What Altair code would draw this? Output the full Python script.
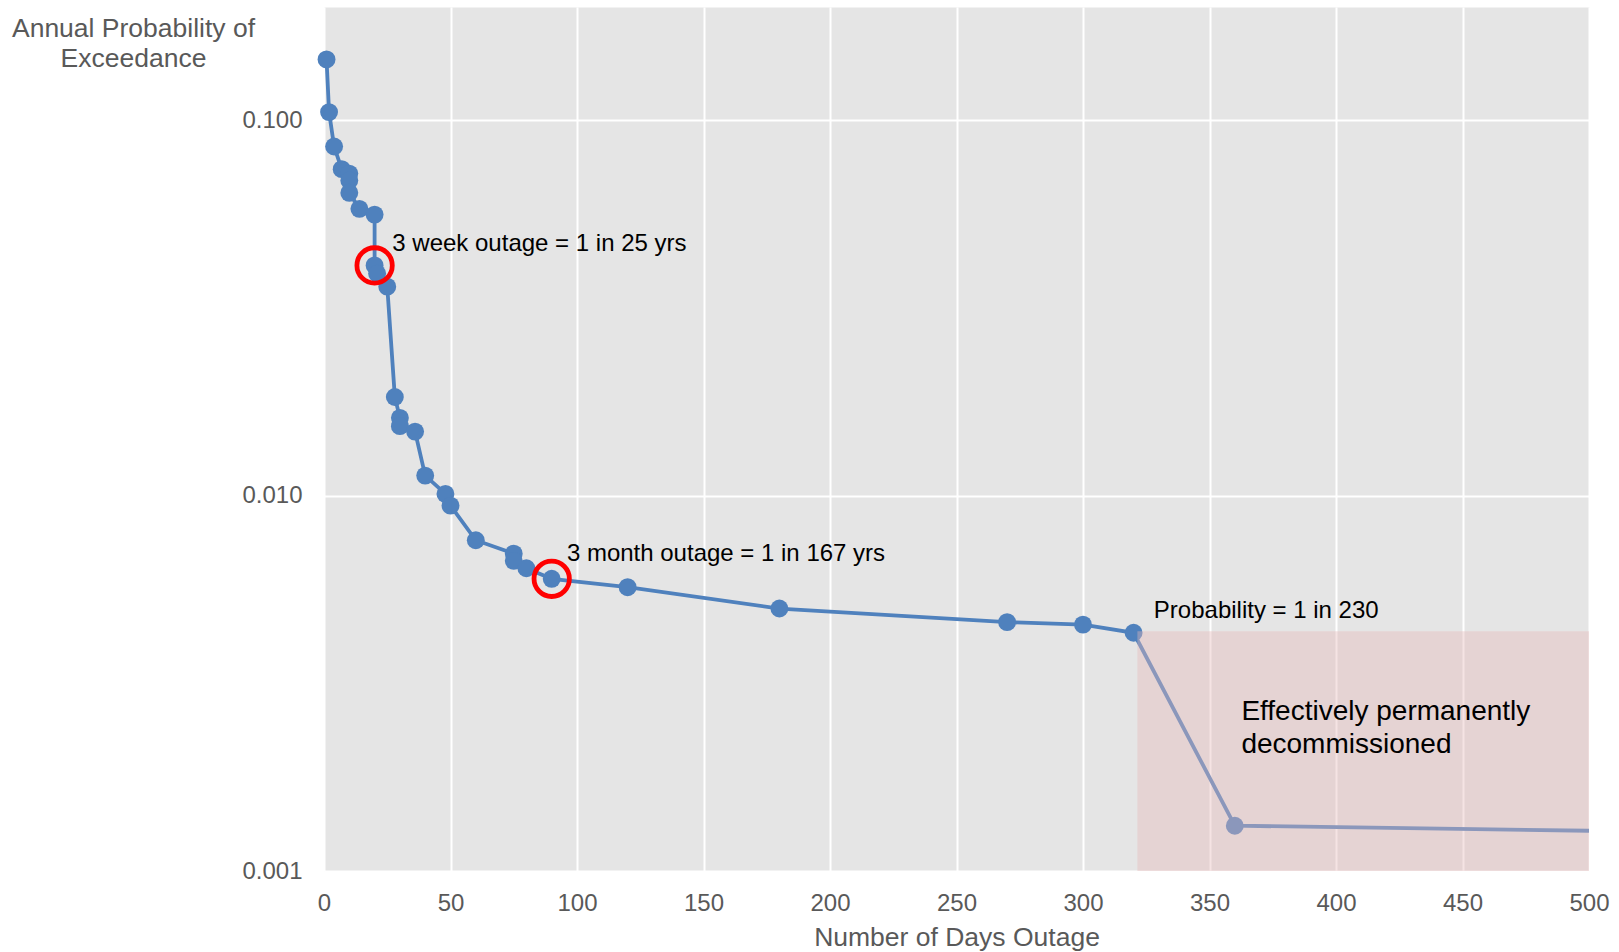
import altair as alt
import pandas as pd

# ---- data ----
days = [1, 2, 4, 7, 10, 10, 10, 14, 20, 20, 21, 25, 28, 30, 30, 36, 40, 48, 50, 60,
        75, 75, 80, 90, 120, 180, 270, 300, 320, 360, 500]
prob = [0.145, 0.105, 0.085, 0.074, 0.072, 0.069, 0.064, 0.058, 0.056, 0.041, 0.039, 0.036,
        0.0183, 0.0161, 0.0153, 0.0148, 0.0113, 0.0101, 0.0094, 0.0076,
        0.0070, 0.0067, 0.0064, 0.0060, 0.0057, 0.0050, 0.0046, 0.00453, 0.00431, 0.00132, 0.00128]
has_marker = [True] * 30 + [False]

hl_days = [20, 90]
hl_prob = [0.041, 0.0060]

zone_start = [321.5]
zone_end = [500]
zone_low = [0.001]
zone_high = [1 / 230]

ann_text = ["3 week outage = 1 in 25 yrs", "3 month outage = 1 in 167 yrs", "Probability = 1 in 230"]
ann_x = [27, 96, 328]
ann_y = [0.0447, 0.00671, 0.00471]

decom_text = ["Effectively permanently\ndecommissioned"]
decom_x = [362.6]
decom_y = [0.00252]

x_ticks = list(range(0, 501, 50))
y_ticks = [0.001, 0.01, 0.1]

FONT = "Liberation Sans"
BLUE = "#4f81bd"
GREY = "#595959"

df = pd.DataFrame({"days": days, "prob": prob, "marker": has_marker, "idx": range(len(days))})
df_pts = df[df["marker"]]
df_hl = pd.DataFrame({"days": hl_days, "prob": hl_prob})
df_zone = pd.DataFrame({"x": zone_start, "x2": zone_end, "y": zone_low, "y2": zone_high})
df_ann = pd.DataFrame({"text": ann_text, "x": ann_x, "y": ann_y})
df_dec = pd.DataFrame({"text": decom_text, "x": decom_x, "y": decom_y})

xscale = alt.Scale(domain=[0, 500], nice=False, zero=False)
yscale = alt.Scale(type="log", domain=[0.001, 0.2], nice=False)

xaxis = alt.Axis(
    values=x_ticks, grid=True, domain=False, ticks=False, labelFlush=False, labelOverlap=False,
    labelFontSize=24, labelColor=GREY, labelFont=FONT, labelPadding=20,
    title="Number of Days Outage", titleFontSize=26.5, titleFont=FONT, titleColor=GREY,
    titleFontWeight="normal", titleX=632.5, titleY=74, titleAlign="center",
    titleBaseline="alphabetic",
)
yaxis = alt.Axis(
    values=y_ticks, format=".3f", grid=True, domain=False, ticks=False, labelOverlap=False,
    labelFontSize=24, labelColor=GREY, labelFont=FONT, labelPadding=22,
    title=["Annual Probability of", "Exceedance"], titleFontSize=26.5, titleFont=FONT,
    titleColor=GREY, titleFontWeight="normal", titleAngle=0, titleX=-191, titleY=29,
    titleAlign="center", titleBaseline="alphabetic", titleLineHeight=30,
)

line = alt.Chart(df).mark_line(color=BLUE, strokeWidth=3.8).encode(
    x=alt.X("days:Q", scale=xscale, axis=xaxis),
    y=alt.Y("prob:Q", scale=yscale, axis=yaxis),
    order="idx:Q",
)
pts = alt.Chart(df_pts).mark_point(filled=True, color=BLUE, size=320, opacity=1).encode(
    x=alt.X("days:Q", scale=xscale), y=alt.Y("prob:Q", scale=yscale)
)
hl = alt.Chart(df_hl).mark_point(filled=False, color="#ff0000", strokeWidth=4.8, size=1250, opacity=1).encode(
    x=alt.X("days:Q", scale=xscale), y=alt.Y("prob:Q", scale=yscale)
)
zone = alt.Chart(df_zone).mark_rect(color="#e5b8b8", opacity=0.4).encode(
    x=alt.X("x:Q", scale=xscale), x2="x2:Q",
    y=alt.Y("y:Q", scale=yscale), y2="y2:Q",
)
ann = alt.Chart(df_ann).mark_text(align="left", baseline="alphabetic", fontSize=24, font=FONT, color="#000000").encode(
    x=alt.X("x:Q", scale=xscale), y=alt.Y("y:Q", scale=yscale), text="text:N"
)
dec = alt.Chart(df_dec).mark_text(align="left", baseline="alphabetic", fontSize=28, font=FONT,
                                  color="#000000", lineBreak="\n", lineHeight=33).encode(
    x=alt.X("x:Q", scale=xscale), y=alt.Y("y:Q", scale=yscale), text="text:N"
)

chart = alt.layer(line, pts, hl, zone, ann, dec).properties(
    width=1265, height=864,
    autosize=alt.AutoSizeParams(type="none"),
    padding={"left": 324, "top": 7, "right": 30, "bottom": 81},
    background="#ffffff",
).configure_view(fill="#e5e5e5", stroke="transparent").configure_axis(
    gridColor="#ffffff", gridWidth=2
)

chart.save("out.html", embed_options={"renderer": "svg", "actions": False})
